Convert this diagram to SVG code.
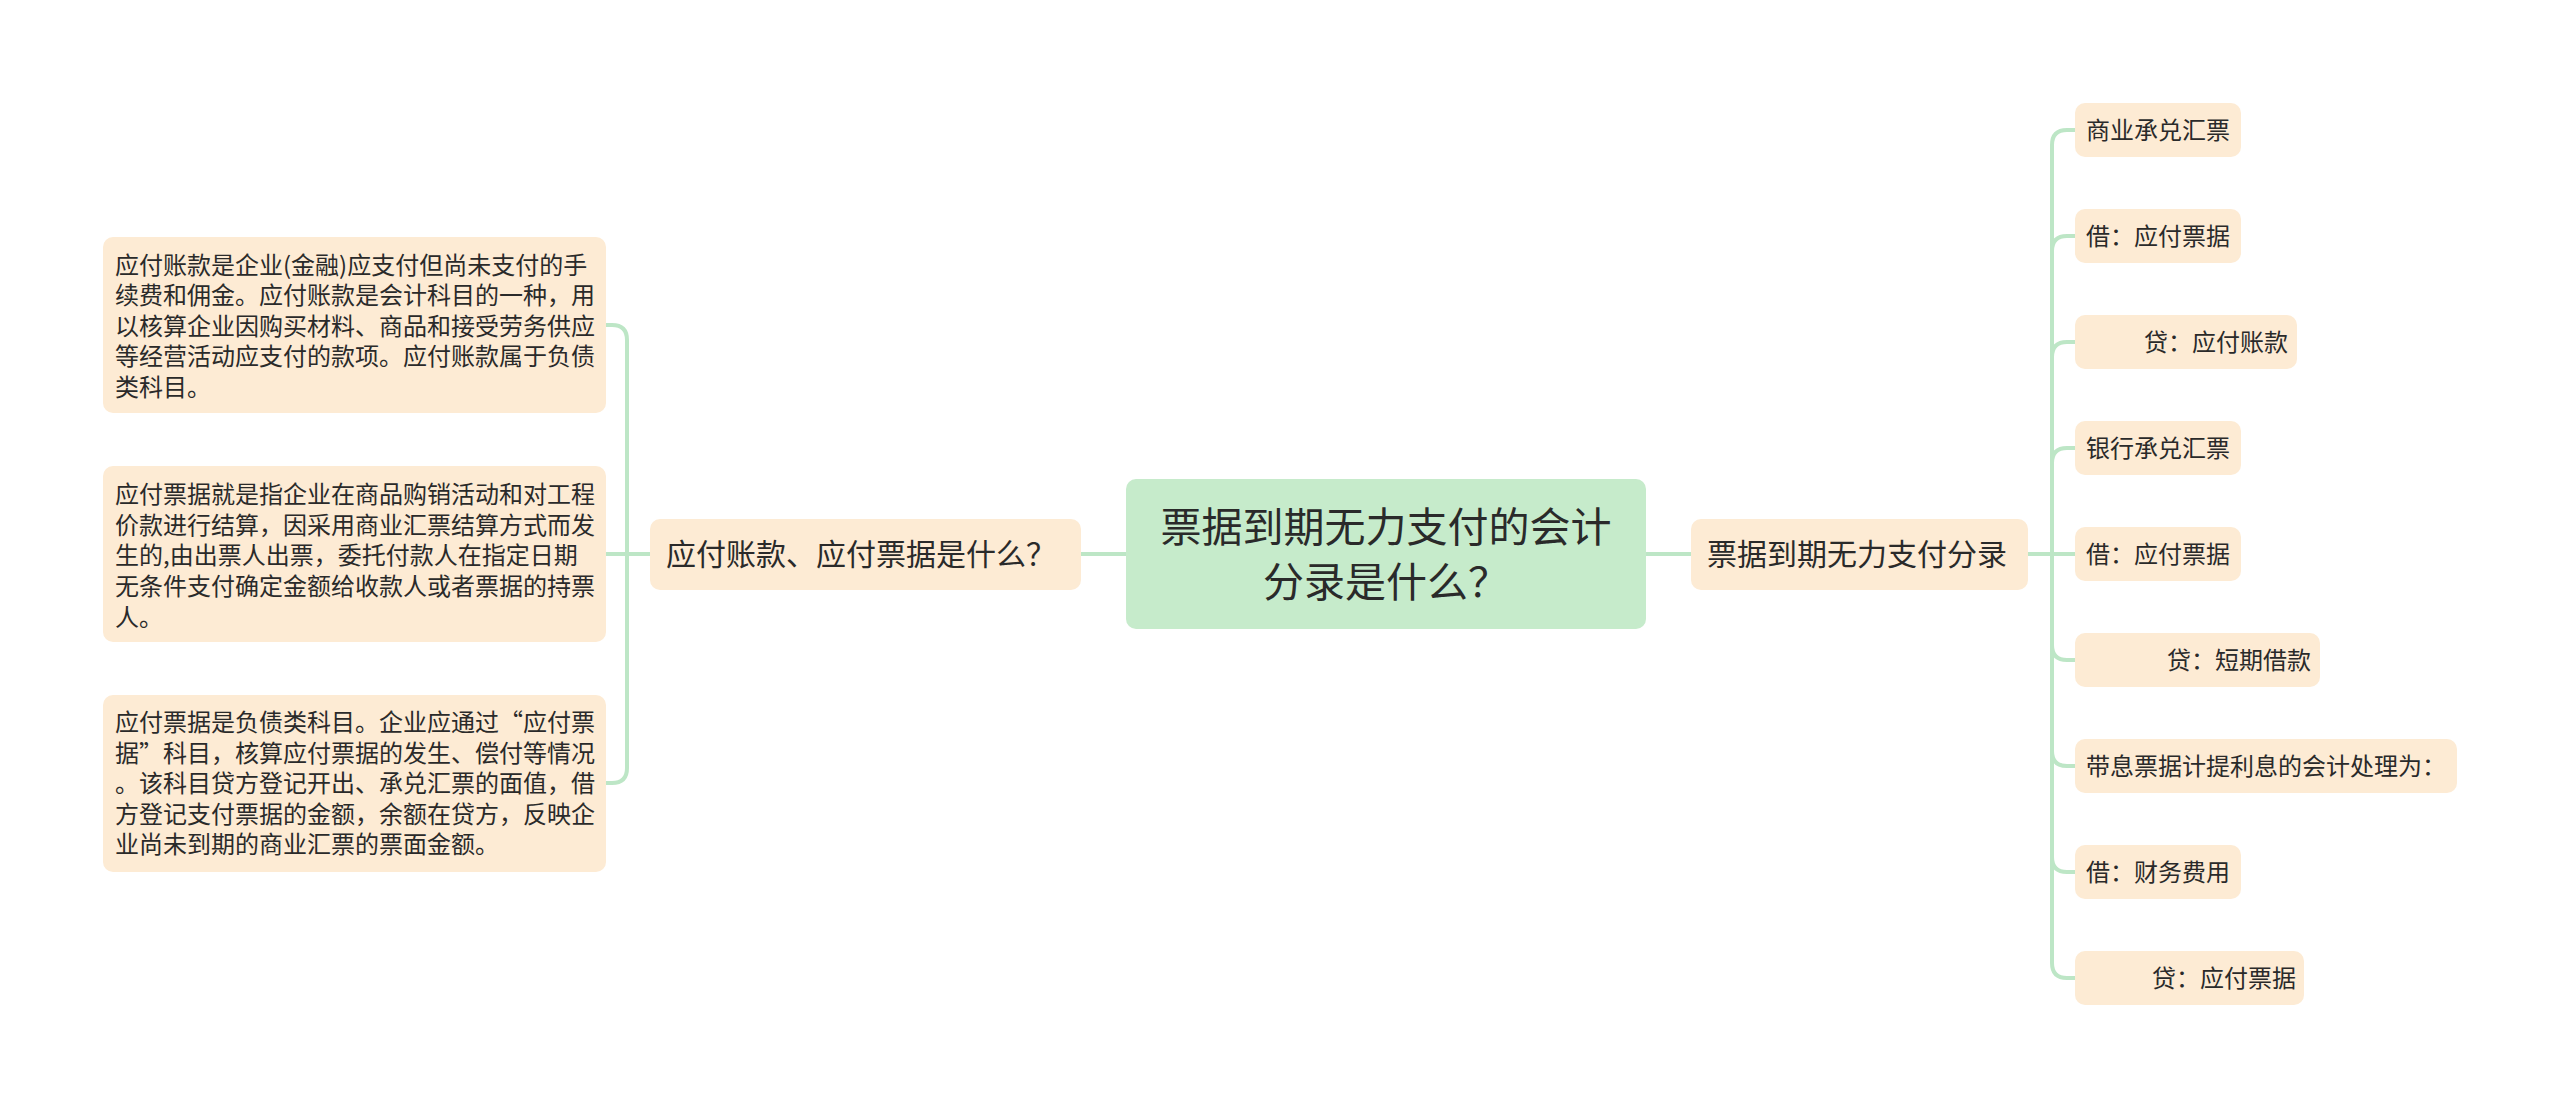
<svg xmlns="http://www.w3.org/2000/svg" width="2560" height="1109" viewBox="0 0 2560 1109">
<style>
.bg{fill:#ffffff}
.leaf{fill:#fdebd4}
.main{fill:#fdebd4}
.root{fill:#c6ebcb}
.t{font-family:"Noto Sans CJK SC","Noto Sans",sans-serif;fill:#2a2a2a}
.s24{font-size:24px}
.s30{font-size:30px}
.s41{font-size:41px}
.c{fill:none;stroke:#bde6c6;stroke-width:4;stroke-linecap:round;stroke-linejoin:round}
</style>
<rect class="bg" x="0" y="0" width="2560" height="1109"/>
<g id="connectors">
<path class="c" d="M1081 554 H1126"/>
<path class="c" d="M1646 554 H1691"/>
<path class="c" d="M650 554 H606"/>
<path class="c" d="M650 554 H627 V340 Q627 325 612 325 H606"/>
<path class="c" d="M650 554 H627 V768 Q627 783 612 783 H606"/>
<path class="c" d="M2028 554 H2052 V145 Q2052 130 2067 130 H2075"/>
<path class="c" d="M2028 554 H2052 V251 Q2052 236 2067 236 H2075"/>
<path class="c" d="M2028 554 H2052 V357 Q2052 342 2067 342 H2075"/>
<path class="c" d="M2028 554 H2052 V463 Q2052 448 2067 448 H2075"/>
<path class="c" d="M2028 554 H2075"/>
<path class="c" d="M2028 554 H2052 V645 Q2052 660 2067 660 H2075"/>
<path class="c" d="M2028 554 H2052 V751 Q2052 766 2067 766 H2075"/>
<path class="c" d="M2028 554 H2052 V857 Q2052 872 2067 872 H2075"/>
<path class="c" d="M2028 554 H2052 V963 Q2052 978 2067 978 H2075"/>
</g>
<g id="root">
<rect class="root" x="1126" y="479" width="520" height="150" rx="10"/>
<text class="t s41" x="1386" y="542" text-anchor="middle">票据到期无力支付的会计</text>
<text class="t s41" x="1386" y="597" text-anchor="middle">分录是什么？</text>
</g>
<g id="left-main">
<rect class="main" x="650" y="519" width="431" height="71" rx="10"/>
<text class="t s30" x="666" y="565">应付账款、应付票据是什么？</text>
</g>
<g id="right-main">
<rect class="main" x="1691" y="519" width="337" height="71" rx="10"/>
<text class="t s30" x="1707" y="565">票据到期无力支付分录</text>
</g>
<g id="left-leaf-1">
<rect class="leaf" x="103" y="237" width="503" height="176" rx="10"/>
<text class="t s24" x="115" y="274">应付账款是企业(金融)应支付但尚未支付的手</text>
<text class="t s24" x="115" y="304">续费和佣金。应付账款是会计科目的一种，用</text>
<text class="t s24" x="115" y="335">以核算企业因购买材料、商品和接受劳务供应</text>
<text class="t s24" x="115" y="365">等经营活动应支付的款项。应付账款属于负债</text>
<text class="t s24" x="115" y="396">类科目。</text>
</g>
<g id="left-leaf-2">
<rect class="leaf" x="103" y="466" width="503" height="176" rx="10"/>
<text class="t s24" x="115" y="503">应付票据就是指企业在商品购销活动和对工程</text>
<text class="t s24" x="115" y="534">价款进行结算，因采用商业汇票结算方式而发</text>
<text class="t s24" x="115" y="564">生的,由出票人出票，委托付款人在指定日期</text>
<text class="t s24" x="115" y="595">无条件支付确定金额给收款人或者票据的持票</text>
<text class="t s24" x="115" y="626">人。</text>
</g>
<g id="left-leaf-3">
<rect class="leaf" x="103" y="695" width="503" height="177" rx="10"/>
<text class="t s24" x="115" y="731">应付票据是负债类科目。企业应通过“应付票</text>
<text class="t s24" x="115" y="762">据”科目，核算应付票据的发生、偿付等情况</text>
<text class="t s24" x="115" y="792">。该科目贷方登记开出、承兑汇票的面值，借</text>
<text class="t s24" x="115" y="823">方登记支付票据的金额，余额在贷方，反映企</text>
<text class="t s24" x="115" y="853">业尚未到期的商业汇票的票面金额。</text>
</g>
<g id="right-leaf-1">
<rect class="leaf" x="2075" y="103" width="166" height="54" rx="10"/>
<text class="t s24" x="2086" y="139">商业承兑汇票</text>
</g>
<g id="right-leaf-2">
<rect class="leaf" x="2075" y="209" width="166" height="54" rx="10"/>
<text class="t s24" x="2086" y="245">借：应付票据</text>
</g>
<g id="right-leaf-3">
<rect class="leaf" x="2075" y="315" width="222" height="54" rx="10"/>
<text class="t s24" x="2144" y="351">贷：应付账款</text>
</g>
<g id="right-leaf-4">
<rect class="leaf" x="2075" y="421" width="166" height="54" rx="10"/>
<text class="t s24" x="2086" y="457">银行承兑汇票</text>
</g>
<g id="right-leaf-5">
<rect class="leaf" x="2075" y="527" width="166" height="54" rx="10"/>
<text class="t s24" x="2086" y="563">借：应付票据</text>
</g>
<g id="right-leaf-6">
<rect class="leaf" x="2075" y="633" width="245" height="54" rx="10"/>
<text class="t s24" x="2167" y="669">贷：短期借款</text>
</g>
<g id="right-leaf-7">
<rect class="leaf" x="2075" y="739" width="382" height="54" rx="10"/>
<text class="t s24" x="2086" y="775">带息票据计提利息的会计处理为：</text>
</g>
<g id="right-leaf-8">
<rect class="leaf" x="2075" y="845" width="166" height="54" rx="10"/>
<text class="t s24" x="2086" y="881">借：财务费用</text>
</g>
<g id="right-leaf-9">
<rect class="leaf" x="2075" y="951" width="229" height="54" rx="10"/>
<text class="t s24" x="2152" y="987">贷：应付票据</text>
</g>
</svg>
